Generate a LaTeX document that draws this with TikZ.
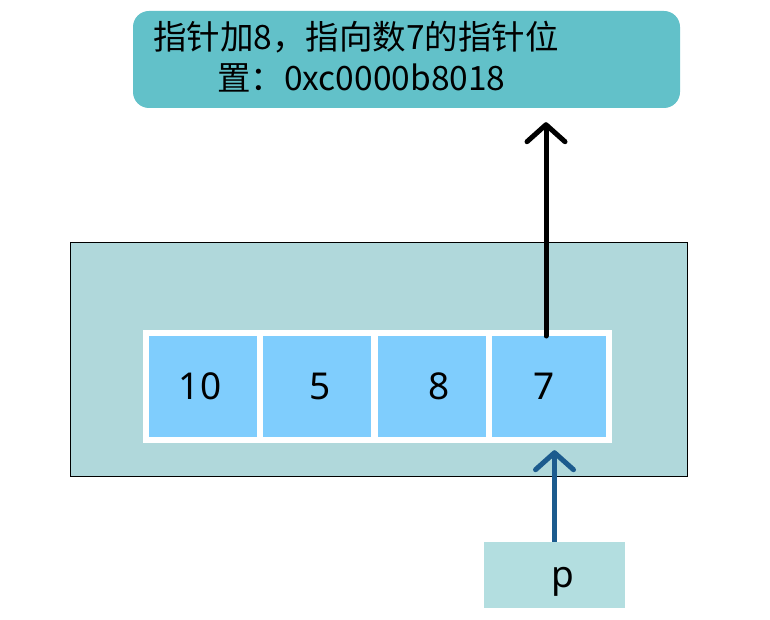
\documentclass[tikz,border=0pt]{standalone}
\usepackage{fontspec}
\setmainfont{Noto Sans}
\newfontfamily\cjk{Noto Sans CJK SC}
\usetikzlibrary{arrows.meta}
\definecolor{topfill}{HTML}{62C1C9}
\definecolor{outerfill}{HTML}{B0D8DB}
\definecolor{cellfill}{HTML}{7FCDFD}
\definecolor{pfill}{HTML}{B3DEE0}
\definecolor{parrow}{HTML}{1C5B8E}
\tikzset{
  cellbox/.style={fill=cellfill, inner sep=0pt, minimum height=101pt, font=\fontsize{37}{40}\selectfont},
  toptext/.style={anchor=base west, inner sep=0pt, font=\cjk\fontsize{33.5}{36}\selectfont},
  arr/.style={line width=5pt, line cap=round, -{Straight Barb[length=17pt, width=38pt, line cap=round, line join=round]}}
}
\begin{document}
\begin{tikzpicture}[x=1pt,y=-1pt]
\useasboundingbox (0,0) rectangle (770,620);
\fill[white] (0,0) rectangle (770,620);
% top box
\node[fill=topfill, rounded corners=16pt, minimum width=547pt, minimum height=97pt, inner sep=0pt] (top) at (406.5,59.5) {};
\node[toptext] (t1) at (153,50) {指针加8，指向数7的指针位};
\node[toptext] (t2) at (217,91) {置：0xc0000b8018};
% outer box
\node[fill=outerfill, draw=black, line width=1pt, minimum width=617pt, minimum height=234pt, inner sep=0pt] (outer) at (378.5,359.5) {};
% white strip
\node[fill=white, minimum width=469pt, minimum height=113pt, inner sep=0pt] (strip) at (377.5,386.5) {};
% cells
\node[cellbox, minimum width=108pt] (c1) at (203,386.5) {};
\node[cellbox, minimum width=108pt] (c2) at (317,386.5) {};
\node[cellbox, minimum width=108.5pt] (c3) at (431.75,386.5) {};
\node[cellbox, minimum width=114pt] (c4) at (549,386.5) {};
\node[font=\fontsize{37}{40}\selectfont, inner sep=0pt] (n1) at ([xshift=-3pt]c1.center) {10};
\node[font=\fontsize{37}{40}\selectfont, inner sep=0pt] (n2) at ([xshift=3pt]c2.center) {5};
\node[font=\fontsize{37}{40}\selectfont, inner sep=0pt] (n3) at ([xshift=7pt]c3.center) {8};
\node[font=\fontsize{37}{40}\selectfont, inner sep=0pt] (n4) at ([xshift=-5pt]c4.center) {7};
% p box
\node[fill=pfill, minimum width=141pt, minimum height=66pt, inner sep=0pt] (pbox) at (554.5,575) {};
\node[font=\fontsize{37}{40}\selectfont, inner sep=0pt] (pl) at ([xshift=8pt,yshift=-7pt]pbox.center) {p};
% arrows
\coordinate (a1s) at (546,336);
\draw[arr, black, shorten >=14pt] (a1s) -- (a1s |- top.south);
\draw[arr, parrow, shorten >=13pt, line cap=butt] (pbox.north) -- (pbox.north |- c4.south);
\end{tikzpicture}
\end{document}
